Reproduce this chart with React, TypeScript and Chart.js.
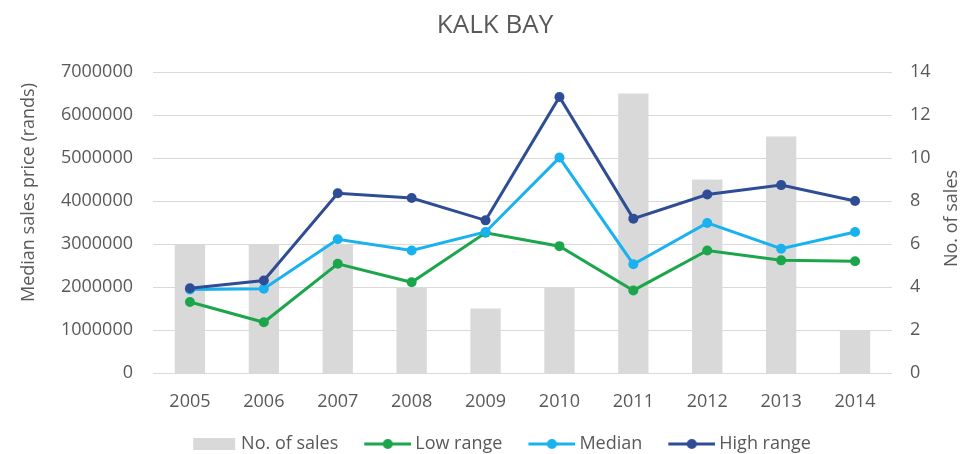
import React, { useEffect, useRef } from 'react';
import { Chart, registerables } from 'chart.js';

Chart.register(...registerables);

const years = ['2005', '2006', '2007', '2008', '2009', '2010', '2011', '2012', '2013', '2014'];
const noOfSales = [6, 6, 6, 4, 3, 4, 13, 9, 11, 2];
const lowRange = [1650000, 1180000, 2540000, 2110000, 3260000, 2950000, 1920000, 2850000, 2620000, 2600000];
const median = [1940000, 1960000, 3110000, 2850000, 3280000, 5010000, 2530000, 3490000, 2890000, 3280000];
const highRange = [1970000, 2150000, 4180000, 4070000, 3550000, 6420000, 3590000, 4150000, 4370000, 4000000];

const FONT = '"Open Sans", sans-serif';
const TEXT = '#595959';
const C_BAR = '#d9d9d9';
const C_LOW = '#1ba64c';
const C_MED = '#19b2ef';
const C_HIGH = '#2f4d94';
const BOXW = 66;

function legendImage(kind: string, color: string) {
  const c = document.createElement('canvas');
  const W = BOXW + 10;
  const H = 14;
  c.width = W;
  c.height = H;
  const ctx = c.getContext('2d')!;
  if (kind === 'bar') {
    ctx.fillStyle = color;
    ctx.fillRect(W - 2 - 42, 1, 42, 12);
  } else {
    ctx.strokeStyle = color;
    ctx.lineWidth = 3;
    ctx.beginPath();
    ctx.moveTo(W - 47, 7);
    ctx.lineTo(W, 7);
    ctx.stroke();
    ctx.fillStyle = color;
    ctx.beginPath();
    ctx.arc(W - 23.5, 7, 5, 0, Math.PI * 2);
    ctx.fill();
  }
  return c;
}

const textPlugin = {
  id: 'textPlugin',
  afterDraw(chart: any) {
    const { ctx, chartArea } = chart;
    const mid = (chartArea.top + chartArea.bottom) / 2;
    ctx.save();
    ctx.fillStyle = TEXT;
    ctx.textAlign = 'center';
    ctx.textBaseline = 'middle';
    ctx.font = `26px ${FONT}`;
    ctx.fillText('KALK BAY', 495, 26);
    ctx.font = `18px ${FONT}`;
    ctx.save();
    ctx.translate(29, mid - 30);
    ctx.rotate(-Math.PI / 2);
    ctx.fillText('Median sales price (rands)', 0, 0);
    ctx.restore();
    ctx.save();
    ctx.translate(952, mid - 4);
    ctx.rotate(-Math.PI / 2);
    ctx.fillText('No. of sales', 0, 0);
    ctx.restore();
    ctx.restore();
  },
};

export default function App() {
  const ref = useRef<HTMLCanvasElement | null>(null);

  useEffect(() => {
    document.body.style.margin = '0';
    const legendDefs = [
      { text: 'No. of sales', kind: 'bar', color: C_BAR, ds: 3 },
      { text: 'Low range', kind: 'line', color: C_LOW, ds: 2 },
      { text: 'Median', kind: 'line', color: C_MED, ds: 1 },
      { text: 'High range', kind: 'line', color: C_HIGH, ds: 0 },
    ];
    const images = legendDefs.map((d) => legendImage(d.kind, d.color));

    const lineDs = (label: string, data: number[], color: string) => ({
      type: 'line' as const,
      label,
      data,
      yAxisID: 'y',
      borderColor: color,
      backgroundColor: color,
      borderWidth: 3,
      pointRadius: 5,
      pointBackgroundColor: color,
      pointBorderColor: color,
      pointBorderWidth: 0,
      tension: 0,
      fill: false,
    });

    const chart = new Chart(ref.current!, {
      type: 'bar',
      data: {
        labels: years,
        datasets: [
          lineDs('High range', highRange, C_HIGH),
          lineDs('Median', median, C_MED),
          lineDs('Low range', lowRange, C_LOW),
          {
            type: 'bar' as const,
            label: 'No. of sales',
            data: noOfSales,
            yAxisID: 'y1',
            backgroundColor: C_BAR,
            borderWidth: 0,
            barPercentage: 0.41,
            categoryPercentage: 1,
          },
        ] as any,
      },
      options: {
        animation: false,
        responsive: true,
        maintainAspectRatio: false,
        layout: { padding: { left: 10, right: 0, top: 72, bottom: -9 } },
        plugins: {
          tooltip: { enabled: false },
          title: { display: false },
          legend: {
            position: 'bottom',
            labels: {
              usePointStyle: true,
              pointStyleWidth: BOXW,
              padding: 2,
              color: TEXT,
              font: { family: FONT, size: 18 },
              generateLabels: () =>
                legendDefs.map((d, i) => ({
                  text: d.text,
                  pointStyle: images[i],
                  fillStyle: d.color,
                  strokeStyle: d.color,
                  lineWidth: 0,
                  hidden: false,
                  datasetIndex: d.ds,
                  fontColor: TEXT,
                })) as any,
            },
          },
        },
        scales: {
          x: {
            grid: { display: false, drawTicks: false },
            border: { display: false },
            ticks: { color: TEXT, font: { family: FONT, size: 18 }, padding: 18 },
            afterFit: (s: any) => {
              s.height = 60;
            },
          },
          y: {
            position: 'left',
            min: 0,
            max: 7000000,
            grid: { color: '#d9d9d9', drawTicks: false },
            border: { display: false },
            ticks: {
              stepSize: 1000000,
              color: TEXT,
              font: { family: FONT, size: 18 },
              padding: 20,
              callback: (v: any) => String(v),
            },
            afterFit: (s: any) => {
              s.width = 143;
            },
          },
          y1: {
            position: 'right',
            min: 0,
            max: 14,
            grid: { display: false, drawTicks: false },
            border: { display: false },
            ticks: {
              stepSize: 2,
              color: TEXT,
              font: { family: FONT, size: 18 },
              padding: 18,
            },
            afterFit: (s: any) => {
              s.width = 75;
            },
          },
        },
      } as any,
      plugins: [textPlugin],
    });
    return () => chart.destroy();
  }, []);

  return (
    <div style={{ width: 967, height: 454, position: 'relative' }}>
      <canvas ref={ref} />
    </div>
  );
}
